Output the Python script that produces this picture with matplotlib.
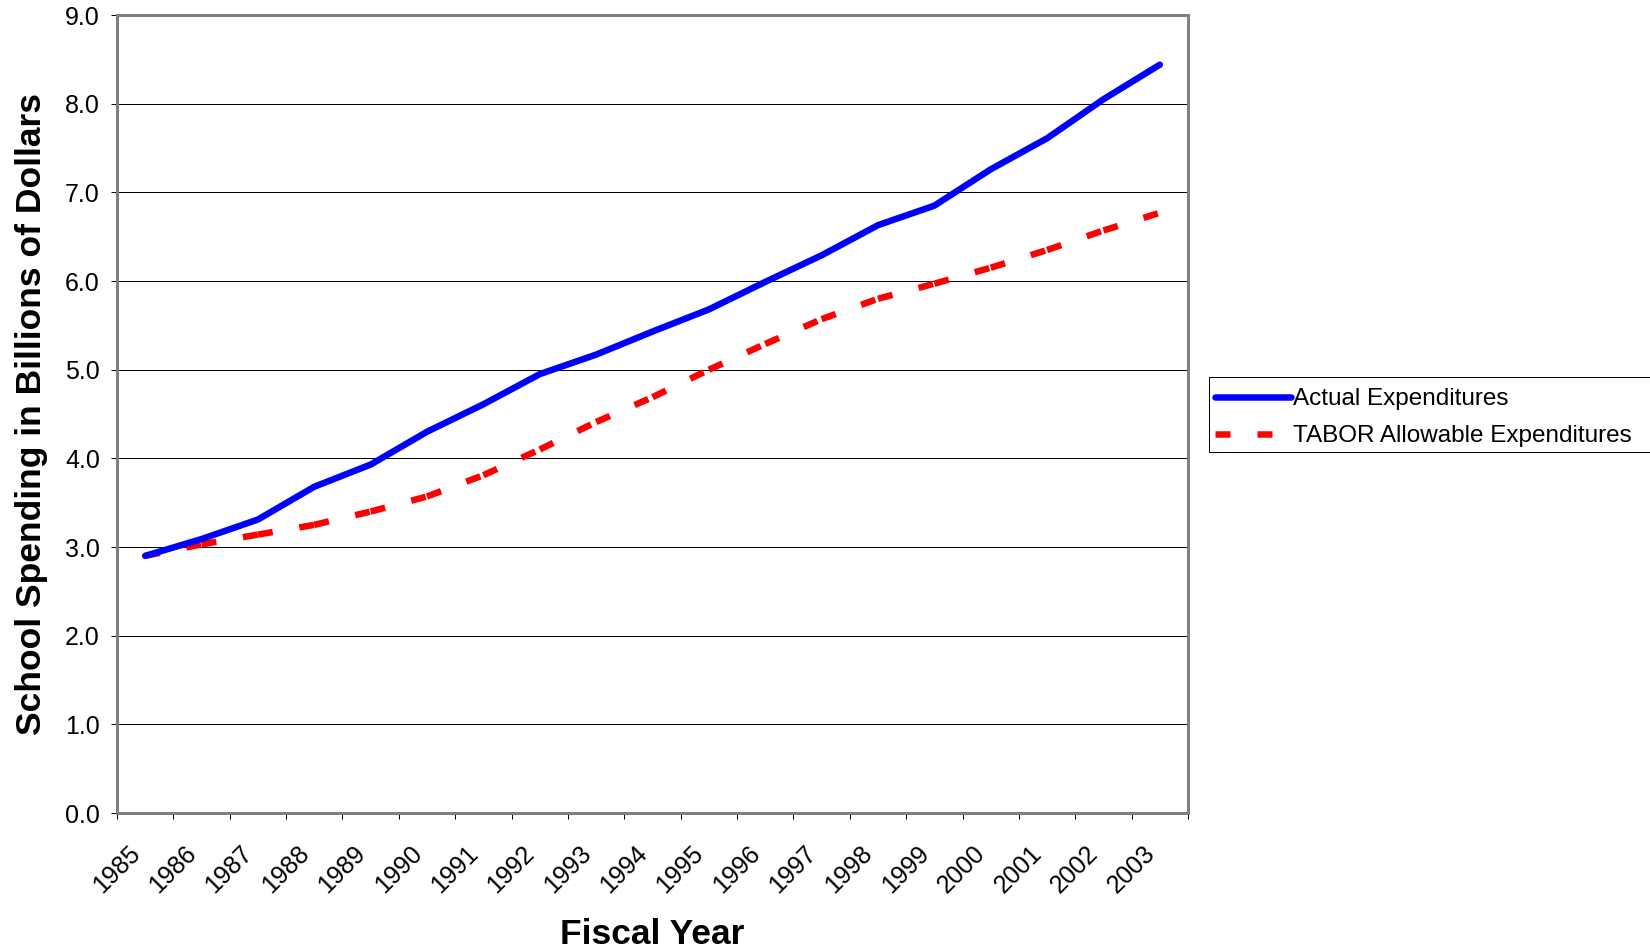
"""
School spending vs TABOR allowable expenditures, fiscal years 1985-2003
"""
import matplotlib.pyplot as plt
import matplotlib.transforms as mtransforms
from matplotlib.lines import Line2D
from matplotlib.patches import Rectangle
import numpy as np

plt.rcParams['font.family'] = ['Liberation Sans', 'DejaVu Sans']
plt.rcParams['lines.scale_dashes'] = False

# Data (billions of dollars)
years = ['1985', '1986', '1987', '1988', '1989', '1990', '1991', '1992', '1993', '1994',
         '1995', '1996', '1997', '1998', '1999', '2000', '2001', '2002', '2003']
actual = [2.90, 3.09, 3.31, 3.68, 3.93, 4.30, 4.61, 4.95, 5.17, 5.43,
          5.68, 5.99, 6.29, 6.63, 6.85, 7.26, 7.61, 8.05, 8.44]
tabor = [2.90, 3.03, 3.14, 3.25, 3.40, 3.57, 3.81, 4.10, 4.41, 4.69,
         5.00, 5.29, 5.57, 5.80, 5.97, 6.15, 6.35, 6.57, 6.77]

DPI = 100
W, H = 1650, 952
fig = plt.figure(figsize=(W / DPI, H / DPI), dpi=DPI, facecolor='white')
ax = fig.add_axes([0.0709, 0.146, 0.6491, 0.8382])

x = np.arange(len(years))
px = 72 / DPI  # one pixel in points
LW = 6.5 * px
DASH = (0, (15 * px, 27 * px))

# Actual expenditures - solid blue
ax.plot(x, actual, color='#0000FF', lw=LW, solid_capstyle='round',
        solid_joinstyle='round', zorder=4)

# TABOR - dashed red, dash pattern restarts on every segment
for i in range(len(x) - 1):
    ax.plot(x[i:i + 2], tabor[i:i + 2], color='#FF0000', lw=LW,
            linestyle=DASH, dash_capstyle='butt', zorder=3)

ax.set_xlim(-0.5, len(years) - 0.5)
ax.set_ylim(0, 9)

# y axis
yt = np.arange(0, 9.01, 1.0)
ax.set_yticks(yt)
ax.set_yticklabels([f'{v:.1f}' for v in yt], fontsize=18)
ax.tick_params(axis='y', direction='out', length=6 * px, width=1 * px,
               color='black', pad=11 * px)
ax.yaxis.grid(True, color='black', lw=1 * px)
ax.set_axisbelow(True)

# x axis: labels at category centers, tick marks at boundaries
ax.set_xticks(x)
ax.set_xticklabels(years, fontsize=18, rotation=45, ha='right', va='center',
                   rotation_mode='anchor')
ax.tick_params(axis='x', which='major', length=0, pad=37 * px)
ax.set_xticks(np.arange(-0.5, len(years)), minor=True)
ax.tick_params(axis='x', which='minor', direction='out', length=6 * px,
               width=1 * px, color='black')
shift = mtransforms.ScaledTranslation(-9 / DPI, 0, fig.dpi_scale_trans)
for lbl in ax.get_xticklabels():
    lbl.set_transform(lbl.get_transform() + shift)

for s in ax.spines.values():
    s.set_color('#808080')
    s.set_linewidth(3 * px)

ax.set_ylabel('School Spending in Billions of Dollars', fontsize=25.5,
              fontweight='bold')
ax.yaxis.set_label_coords(-0.064, 0.5)
ax.set_xlabel('Fiscal Year', fontsize=25.5, fontweight='bold')
ax.xaxis.set_label_coords(0.5, -0.131)

# legend box runs past the right edge of the figure
fig.add_artist(Rectangle((1209 / W, 1 - 452 / H), 0.3, 75 / H,
                         transform=fig.transFigure, facecolor='white',
                         edgecolor='black', lw=1 * px, zorder=5))

handles = [
    Line2D([], [], color='#0000FF', lw=LW, solid_capstyle='round'),
    Line2D([], [], color='#FF0000', lw=LW, linestyle=DASH, dash_capstyle='butt'),
]
leg = fig.legend(handles, ['Actual Expenditures', 'TABOR Allowable Expenditures'],
                 loc='upper left', bbox_to_anchor=(1205 / W, 1 - 378 / H),
                 fontsize=17.5, frameon=False,
                 handlelength=3.1, handletextpad=0.1, borderpad=0.42,
                 labelspacing=0.62, borderaxespad=0)
leg.set_zorder(6)

fig.savefig('out.png', dpi=DPI, facecolor='white')
